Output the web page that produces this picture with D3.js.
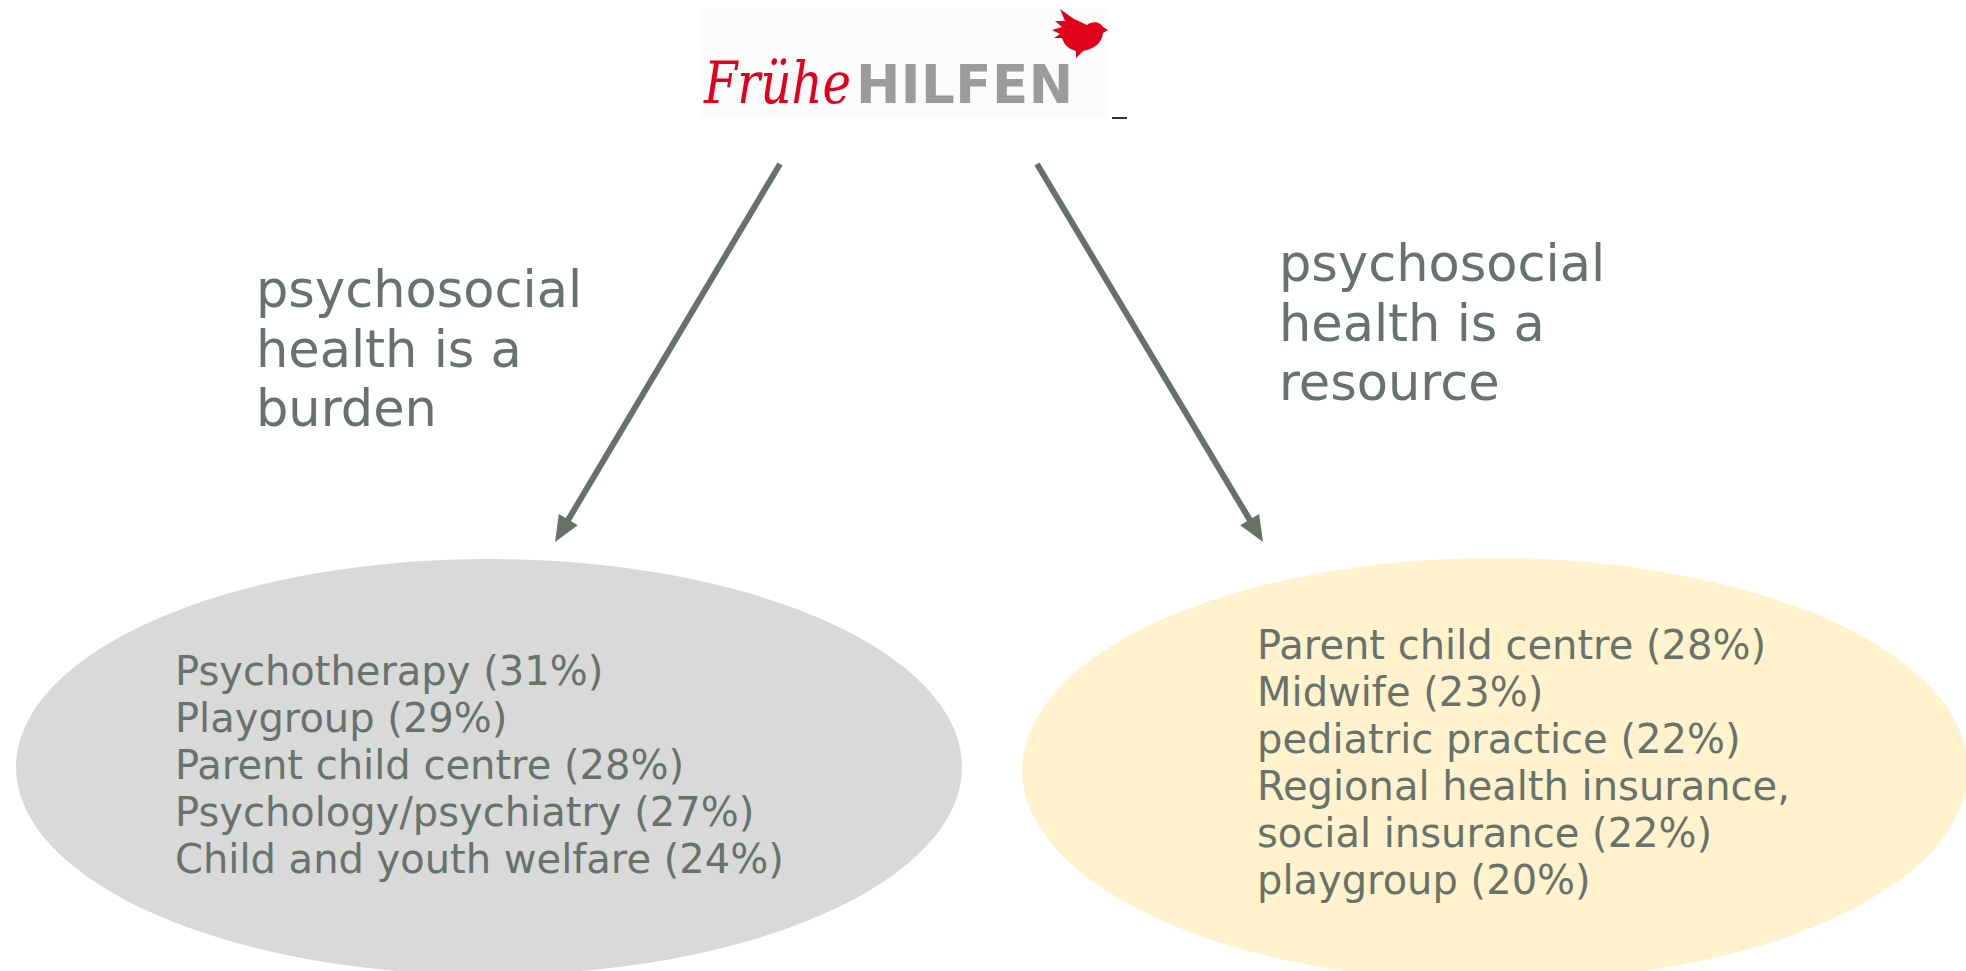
<!DOCTYPE html>
<html>
<head>
<meta charset="utf-8">
<script src="https://cdn.jsdelivr.net/npm/d3@7"></script>
<style>
  body { margin: 0; background: #fff; }
  svg { display: block; }
</style>
</head>
<body>
<div id="chart"></div>
<script>
// headings next to the arrows
const burdenHeading = ["psychosocial", "health is a", "burden"];
const resourceHeading = ["psychosocial", "health is a", "resource"];

// "psychosocial health is a burden" -> institutions named
const burdenItems = ["Psychotherapy", "Playgroup", "Parent child centre", "Psychology/psychiatry", "Child and youth welfare"];
const burdenShares = [31, 29, 28, 27, 24];

// "psychosocial health is a resource" -> institutions named (one label wraps)
const resourceItems = [["Parent child centre"], ["Midwife"], ["pediatric practice"], ["Regional health insurance,", "social insurance"], ["playgroup"]];
const resourceShares = [28, 23, 22, 22, 20];

const W = 1966, H = 971;
const textColor = "#67726b";
const arrowColor = "#66716a";
const font = "'DejaVu Sans', sans-serif";

const svg = d3.select("#chart").append("svg")
  .attr("width", W)
  .attr("height", H);

// ellipses
const ellipses = [
  {cx: 489, cy: 767, rx: 473, ry: 208, fill: "#d9d9d9"},
  {cx: 1495, cy: 770, rx: 473, ry: 212, fill: "#fff2cc"}
];
svg.selectAll("ellipse.blob")
  .data(ellipses)
  .join("ellipse")
  .attr("class", "blob")
  .attr("cx", d => d.cx).attr("cy", d => d.cy)
  .attr("rx", d => d.rx).attr("ry", d => d.ry)
  .attr("fill", d => d.fill);

// arrows from the logo down to each ellipse
const arrows = [
  {from: [780, 164], to: [555, 542]},
  {from: [1037, 164], to: [1263, 542]}
];
const headLen = 26, headHalf = 11;
arrows.forEach(a => {
  const [x1, y1] = a.from, [x2, y2] = a.to;
  const len = Math.hypot(x2 - x1, y2 - y1);
  const ux = (x2 - x1) / len, uy = (y2 - y1) / len;
  const bx = x2 - ux * headLen, by = y2 - uy * headLen;
  svg.append("line")
    .attr("x1", x1).attr("y1", y1)
    .attr("x2", bx + ux * 4).attr("y2", by + uy * 4)
    .attr("stroke", arrowColor)
    .attr("stroke-width", 6);
  svg.append("path")
    .attr("d", d3.line()([[x2, y2], [bx - uy * headHalf, by + ux * headHalf], [bx + uy * headHalf, by - ux * headHalf]]) + "Z")
    .attr("fill", arrowColor);
});

// headings
const headY = d3.scaleLinear().domain([0, 1]).range([0, 59.5]);
const headings = [
  {lines: burdenHeading, x: 256, y: 307},
  {lines: resourceHeading, x: 1279, y: 281}
];
headings.forEach(h => {
  svg.append("g")
    .selectAll("text")
    .data(h.lines)
    .join("text")
    .attr("x", h.x)
    .attr("y", (d, i) => h.y + headY(i))
    .attr("font-family", font)
    .attr("font-size", 51)
    .attr("fill", textColor)
    .text(d => d);
});

// list lines inside the ellipses
const lineY = d3.scaleLinear().domain([0, 1]).range([0, 47.1]);

const burdenLines = burdenItems.map((d, i) => `${d} (${burdenShares[i]}%)`);
svg.append("g")
  .selectAll("text")
  .data(burdenLines)
  .join("text")
  .attr("x", 175)
  .attr("y", (d, i) => 685 + lineY(i))
  .attr("font-family", font)
  .attr("font-size", 40)
  .attr("fill", textColor)
  .text(d => d);

const resourceLines = [];
resourceItems.forEach((lines, i) => {
  lines.forEach((l, j) => {
    resourceLines.push(j === lines.length - 1 ? `${l} (${resourceShares[i]}%)` : l);
  });
});
svg.append("g")
  .selectAll("text")
  .data(resourceLines)
  .join("text")
  .attr("x", 1257)
  .attr("y", (d, i) => 658.5 + lineY(i))
  .attr("font-family", font)
  .attr("font-size", 40)
  .attr("fill", textColor)
  .text(d => d);

// logo
const logo = svg.append("g");
logo.append("rect")
  .attr("x", 700).attr("y", 8)
  .attr("width", 408).attr("height", 110)
  .attr("fill", "#fbfbfb");

// stretch a word so that its ink spans exactly `target` pixels
function fitWord(sel, x, y, target, sy) {
  const box = sel.node().getBBox();
  const k = target / box.width;
  sel.attr("transform", `translate(${x - box.x * k},${y}) scale(${k},${sy})`);
}

const fruehe = logo.append("text")
  .attr("font-family", "'DejaVu Serif', serif")
  .attr("font-style", "italic")
  .attr("font-size", 52)
  .attr("fill", "#e2001a")
  .text("Frühe");
fitWord(fruehe, 703, 103, 148, 1.1);

logo.append("text")
  .attr("x", 856).attr("y", 103)
  .attr("font-family", "'DejaVu Sans', sans-serif")
  .attr("font-weight", "bold")
  .attr("font-size", 53)
  .attr("letter-spacing", 0.5)
  .attr("fill", "#9b9b9b")
  .text("HILFEN");

logo.append("path")
  .attr("transform", "translate(1052,8)")
  .attr("d", "M0 22 L10 19 L3 13 L13 13 L8 1 L22 11 L35 17 C40 13 48 13 51 19 L56 22 L51 25 C50 35 42 41 31 43 L24 50 L24 43 C16 41 12 36 10 30 L2 30 L8 26 Z")
  .attr("fill", "#e2001a");
logo.append("rect")
  .attr("x", 1112).attr("y", 117)
  .attr("width", 15).attr("height", 2)
  .attr("fill", "#333");
</script>
</body>
</html>
